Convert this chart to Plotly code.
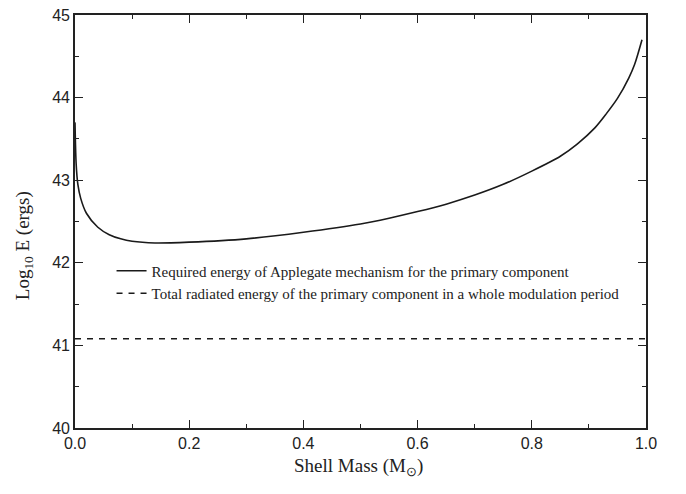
import plotly.graph_objects as go

shell_mass = [0.0, 0.002, 0.005, 0.01, 0.02, 0.04, 0.06, 0.08, 0.10, 0.14, 0.20, 0.30, 0.40,
              0.50, 0.55, 0.60, 0.65, 0.70, 0.75, 0.80, 0.85, 0.88, 0.91, 0.93, 0.95, 0.97, 0.98, 0.993]
required_energy = [43.70, 43.20, 42.95, 42.78, 42.60, 42.43, 42.34, 42.29, 42.26, 42.24, 42.25, 42.29, 42.37,
                   42.47, 42.54, 42.62, 42.71, 42.82, 42.95, 43.11, 43.29, 43.44, 43.63, 43.80, 43.99, 44.24, 44.40, 44.70]
radiated_x = [0.0, 1.0]
radiated_energy = [41.08, 41.08]

fig = go.Figure()
fig.add_trace(go.Scatter(x=shell_mass, y=required_energy, mode="lines",
                         line=dict(color="#1a1a1a", width=1.6, shape="spline", smoothing=0.8),
                         name="Required energy of Applegate mechanism for the primary component"))
fig.add_trace(go.Scatter(x=radiated_x, y=radiated_energy, mode="lines",
                         line=dict(color="#1a1a1a", width=1.4, dash="6px,6px"),
                         name="Total radiated energy of the primary component in a whole modulation period"))

serif = "Liberation Serif, Times New Roman, serif"
axis_common = dict(showline=True, linecolor="#222", linewidth=1.6, mirror="ticks", ticks="inside",
                   tickcolor="#222", tickwidth=1.4, ticklen=8, showgrid=False, zeroline=False,
                   tickfont=dict(family="Liberation Sans, Arial", size=16, color="#222"))
fig.update_xaxes(range=[0, 1.0], dtick=0.2, tickformat=".1f",
                 minor=dict(ticks="inside", ticklen=4, dtick=0.1, tickcolor="#222", tickwidth=1.2),
                 **axis_common)
fig.update_yaxes(range=[40, 45], dtick=1,
                 minor=dict(ticks="inside", ticklen=4, dtick=0.5, tickcolor="#222", tickwidth=1.2),
                 **axis_common)
fig.add_annotation(text="Shell Mass (M<sub>⊙</sub>)", xref="paper", yref="paper", x=0.496, y=-0.095,
                   xanchor="center", yanchor="middle", showarrow=False,
                   font=dict(family=serif, size=19, color="#222"))
fig.add_annotation(text="Log<sub>10</sub> E (ergs)", xref="paper", yref="paper", x=-0.088, y=0.442,
                   xanchor="center", yanchor="middle", showarrow=False, textangle=-90,
                   font=dict(family=serif, size=19, color="#222"))
fig.update_layout(width=686, height=494, margin=dict(l=75, r=40, t=7, b=66),
                  plot_bgcolor="white", paper_bgcolor="white",
                  legend=dict(x=0.064, y=0.42, xanchor="left", yanchor="top", bgcolor="rgba(0,0,0,0)",
                              font=dict(family=serif, size=15, color="#222"),
                              tracegroupgap=0, itemwidth=30))
fig.write_html("out.html")
